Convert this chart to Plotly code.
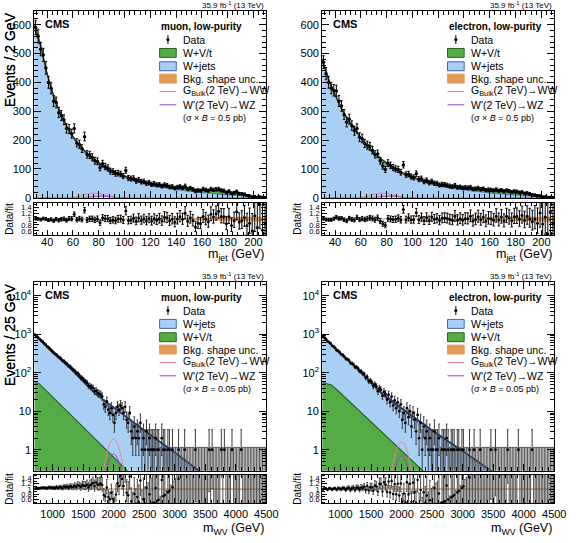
import numpy as np
import plotly.graph_objects as go

W, H = 578, 543
FONT = "Liberation Sans, Arial, Helvetica, sans-serif"

# ---------------- m_jet spectra (2 GeV bins, 30-210 GeV) ----------------
mjet_bin_centers = list(range(31, 211, 2))
mu_mjet_data = [590, 560, 515, 495, 450, 400, 380, 335, 330, 295,
                285, 270, 240, 238, 222, 240, 190, 185, 170, 212,
                150, 148, 140, 128, 126, 104, 118, 108, 103, 92,
                90, 84, 85, 82, 75, 95, 68, 66, 67, 58,
                62, 55, 56, 50, 52, 46, 48, 44, 45, 40,
                44, 42, 37, 38, 33, 36, 38, 34, 40, 30,
                33, 29, 22, 25, 24, 30, 27, 24, 30, 27,
                29, 30, 25, 24, 18, 22, 15, 17, 21, 14,
                13, 12, 7, 6, 3, 4, 2, 3, 1, 1]
el_mjet_data = [470, 430, 400, 380, 372, 370, 335, 318, 288, 262,
                272, 250, 232, 240, 210, 205, 188, 182, 178, 165,
                150, 152, 128, 110, 98, 120, 112, 104, 100, 98,
                88, 114, 80, 82, 73, 70, 83, 64, 66, 56,
                60, 52, 56, 50, 49, 44, 46, 45, 43, 40,
                38, 42, 36, 37, 34, 35, 34, 36, 30, 31,
                33, 29, 31, 26, 28, 27, 25, 28, 24, 26,
                22, 25, 23, 20, 22, 21, 18, 19, 15, 16,
                13, 10, 9, 6, 6, 3, 3, 1, 2, 1]
mjet_fit_x = [30, 35, 40, 45, 50, 55, 60, 65, 70, 75,
              80, 85, 90, 95, 100, 110, 120, 130, 140, 150,
              160, 170, 180, 190, 195, 200, 205, 210]
mu_mjet_fit = [600, 525, 430, 355, 297, 250, 213, 183, 159, 139,
               122, 107, 95, 85, 76, 61, 50, 42, 36.5, 32,
               28, 25, 21, 15, 9, 4, 2, 1]
el_mjet_fit = [480, 410, 358, 310, 272, 240, 208, 180, 158, 138,
               121, 106, 93, 82, 73, 58, 47, 40, 35, 31,
               27, 24, 20, 14, 9, 4, 2, 1]
mjet_wvt = [3, 3, 3, 3, 3, 4, 5, 7, 8, 8,
            8, 7, 6, 5, 5, 5, 6, 7, 8, 9,
            10, 11, 11, 8, 5, 2, 1, 0.5]
mjet_unc = [0.03, 0.025, 0.02, 0.018, 0.016, 0.015, 0.015, 0.015, 0.015, 0.015,
            0.015, 0.015, 0.015, 0.015, 0.015, 0.018, 0.022, 0.025, 0.03, 0.035,
            0.042, 0.05, 0.06, 0.07, 0.075, 0.08, 0.08, 0.08]
gbulk_mjet_x = [30, 56, 60, 64, 68, 72, 76, 80, 84, 88, 92, 96, 210]
gbulk_mjet = [0, 0, 1, 4, 9, 14, 16, 15, 11, 6, 2, 0, 0]
wprime_mjet_x = [30, 66, 70, 74, 78, 82, 86, 90, 94, 98, 210]
wprime_mjet = [0, 0, 1, 3, 5, 6, 5, 3, 1, 0, 0]

# ---------------- m_WV spectra (25 GeV bins, 700-4500 GeV) ----------------
mwv_bin_centers = [712.5 + 25 * i for i in range(152)]
mu_mwv_data = [970, 905, 820, 750, 690, 640, 580, 530, 480, 450,
               410, 370, 340, 310, 295, 265, 250, 230, 205, 200,
               180, 170, 150, 145, 130, 118, 112, 98, 95, 85,
               74, 72, 64, 58, 55, 46, 45, 42, 40, 33,
               34, 30, 28, 27, 24, 15, 13, 18, 11, 9,
               12, 8, 5, 9, 13, 11, 14, 12, 9, 13,
               6, 5, 9, 3, 2, 4, 2, 3, 2, 5,
               1, 2, 1, 3, 1, 2, 1, 1, 1, 2,
               1, 1, 0, 2, 1, 1, 0, 1, 1, 0,
               1, 0, 0, 0, 1, 0, 0, 0, 1, 0,
               0, 0, 0, 0, 0, 1, 0, 0, 0, 0,
               0, 0, 0, 0, 1, 0, 1, 0, 0, 0,
               0, 0, 1, 0, 1, 0, 0, 0, 0, 1,
               0, 0, 0, 0, 0, 1, 0, 0, 0, 0,
               0, 0, 0, 0, 0, 0, 0, 0, 0, 0,
               0, 0]
el_mwv_data = [860, 820, 745, 650, 625, 575, 500, 480, 440, 385,
               370, 335, 300, 290, 262, 230, 225, 210, 178, 175,
               165, 140, 140, 128, 110, 108, 96, 92, 74, 78,
               60, 62, 56, 45, 50, 44, 33, 40, 36, 25,
               32, 28, 20, 27, 17, 24, 14, 19, 12, 17,
               10, 15, 6, 9, 5, 12, 7, 10, 4, 9,
               6, 3, 8, 2, 5, 1, 4, 2, 3, 1,
               2, 1, 1, 3, 1, 1, 2, 0, 1, 1,
               1, 2, 1, 0, 1, 1, 1, 0, 1, 1,
               0, 1, 1, 0, 0, 0, 1, 0, 0, 1,
               0, 0, 0, 1, 0, 0, 0, 0, 0, 0,
               1, 0, 0, 1, 0, 0, 0, 0, 0, 0,
               0, 1, 0, 0, 0, 0, 0, 0, 1, 0,
               0, 0, 0, 0, 0, 0, 0, 1, 0, 0,
               0, 0, 0, 0, 0, 0, 0, 0, 0, 0,
               0, 0]
mwv_fit_x = [700, 1000, 1300, 1700, 2000, 2500, 3000, 3400, 4500]
mu_mwv_fit = [1000, 339, 126, 28.2, 12.6, 3.16, 0.85, 0.28, 0.02]
el_mwv_fit = [912, 316, 117, 26.3, 12.0, 3.16, 0.93, 0.33, 0.02]
mu_wvt_x = [700, 780, 2223, 3600]
mu_mwv_wvt = [56, 52, 0.285, 0.01]
el_wvt_x = [700, 850, 950, 2347, 3600]
el_mwv_wvt = [56, 48, 35, 0.285, 0.01]
mwv_unc_x = [700, 4500]
mwv_unc = [0.03, 0.035]
mwv_sig_x = [1750, 1800, 1850, 1900, 1950, 2000, 2050, 2100, 2150, 2200, 2250]
mu_gbulk_mwv = [0.05, 0.15, 0.4, 0.95, 1.6, 1.9, 1.6, 0.95, 0.4, 0.15, 0.05]
el_gbulk_mwv = [0.05, 0.13, 0.35, 0.8, 1.35, 1.6, 1.35, 0.8, 0.35, 0.13, 0.05]
mu_wprime_mwv = [0.02, 0.06, 0.17, 0.4, 0.65, 0.78, 0.65, 0.4, 0.17, 0.06, 0.02]
el_wprime_mwv = [0.02, 0.05, 0.15, 0.35, 0.58, 0.7, 0.58, 0.35, 0.15, 0.05, 0.02]

# ---------------- style ----------------
C_BLUE = "#a9cff5"
C_BLUE_EDGE = "#3566c0"
C_GREEN = "#55ab45"
C_GREEN_EDGE = "#1f6a1f"
C_ORANGE = "rgba(226,140,60,0.80)"
C_ORANGE_BOX = "#e39a55"
C_PINK = "#f07f8c"
C_PURPLE = "#9a3cc2"
C_NAVY = "#1e2d6e"


def fx(px):
    return px / W


def fy(py):
    return 1 - py / H


def poisson_err(n):
    n = np.asarray(n, float)
    safe = np.where(n > 0, n, 1.0)
    up = np.where(n > 0, n + np.sqrt(n + 0.75) + 1.0, 1.15)
    lo = np.where(n > 0, safe * (1 - 1 / (9 * safe) - 1 / (3 * np.sqrt(safe))) ** 3, 0.0)
    return up - n, n - lo


fig = go.Figure()


def add(tr, xa, ya):
    tr.update(xaxis=xa, yaxis=ya, showlegend=False, hoverinfo="skip")
    fig.add_trace(tr)


def base_axis(**kw):
    d = dict(showline=True, linecolor="black", linewidth=1, mirror="allticks",
             ticks="inside", tickcolor="black", ticklen=7, tickwidth=1,
             showgrid=False, zeroline=False,
             tickfont=dict(family=FONT, size=11, color="black"))
    d.update(kw)
    return d


panels = [
    dict(kind="mjet", lep="muon", L=35, R=272, T=11, B=200, RT=205, RB=238, XT=258,
         data=mu_mjet_data, fit=mu_mjet_fit),
    dict(kind="mjet", lep="electron", L=329, R=566, T=11, B=200, RT=205, RB=238, XT=258,
         data=el_mjet_data, fit=el_mjet_fit),
    dict(kind="mwv", lep="muon", L=35, R=272, T=285, B=476, RT=480, RB=509, XT=535,
         data=mu_mwv_data, fit=mu_mwv_fit, wvt_x=mu_wvt_x, wvt=mu_mwv_wvt,
         gb=mu_gbulk_mwv, wp=mu_wprime_mwv),
    dict(kind="mwv", lep="electron", L=329, R=566, T=285, B=476, RT=480, RB=509, XT=535,
         data=el_mwv_data, fit=el_mwv_fit, wvt_x=el_wvt_x, wvt=el_mwv_wvt,
         gb=el_gbulk_mwv, wp=el_wprime_mwv),
]

layout = {}
annotations = []
shapes = []

log_minor = [k * 10 ** e for e in range(-1, 5) for k in range(2, 10)]
log_minor = [v for v in log_minor if 0.28 < v < 23000]

for i, p in enumerate(panels):
    mi, ri = 2 * i + 1, 2 * i + 2
    mx = "x" if mi == 1 else f"x{mi}"
    my = "y" if mi == 1 else f"y{mi}"
    rx, ry = f"x{ri}", f"y{ri}"
    mxk = "xaxis" if mi == 1 else f"xaxis{mi}"
    myk = "yaxis" if mi == 1 else f"yaxis{mi}"
    rxk, ryk = f"xaxis{ri}", f"yaxis{ri}"
    xd = [fx(p["L"]), fx(p["R"])]
    L, R, T = p["L"], p["R"], p["T"]

    if p["kind"] == "mjet":
        centers = np.array(mjet_bin_centers, float)
        n = np.array(p["data"], float)
        tot = np.array(p["fit"], float)
        wvt = np.array(mjet_wvt, float)
        unc = np.array(mjet_unc, float)
        add(go.Scatter(x=mjet_fit_x, y=tot - wvt, mode="lines",
                       line=dict(width=0.8, color=C_BLUE_EDGE, shape="spline"),
                       fill="tozeroy", fillcolor=C_BLUE), mx, my)
        add(go.Scatter(x=mjet_fit_x, y=tot, mode="lines",
                       line=dict(width=0, shape="spline"),
                       fill="tonexty", fillcolor=C_GREEN), mx, my)
        add(go.Scatter(x=mjet_fit_x, y=tot * (1 - unc), mode="lines",
                       line=dict(width=0, shape="spline")), mx, my)
        add(go.Scatter(x=mjet_fit_x, y=tot * (1 + unc), mode="lines",
                       line=dict(width=0, shape="spline"),
                       fill="tonexty", fillcolor=C_ORANGE), mx, my)
        add(go.Scatter(x=mjet_fit_x, y=tot, mode="lines",
                       line=dict(width=1.3, color="#1b361b", shape="spline")), mx, my)
        add(go.Scatter(x=gbulk_mjet_x, y=gbulk_mjet, mode="lines",
                       line=dict(width=1, color=C_PINK, shape="spline")), mx, my)
        add(go.Scatter(x=wprime_mjet_x, y=wprime_mjet, mode="lines",
                       line=dict(width=1, color=C_PURPLE, shape="spline")), mx, my)
        eu, el = poisson_err(n)
        add(go.Scatter(x=centers, y=n, mode="markers",
                       marker=dict(size=3.5, color="black"),
                       error_y=dict(type="data", symmetric=False, array=eu, arrayminus=el,
                                    color="black", thickness=1, width=1.2)), mx, my)
        fit_at = np.interp(centers, mjet_fit_x, tot)
        add(go.Scatter(x=mjet_fit_x, y=1 - unc, mode="lines",
                       line=dict(width=0, shape="spline")), rx, ry)
        add(go.Scatter(x=mjet_fit_x, y=1 + unc, mode="lines",
                       line=dict(width=0, shape="spline"),
                       fill="tonexty", fillcolor=C_ORANGE), rx, ry)
        add(go.Scatter(x=centers, y=n / fit_at, mode="markers",
                       marker=dict(size=3, color="black"),
                       error_y=dict(type="data", symmetric=False, array=eu / fit_at,
                                    arrayminus=el / fit_at, color="black",
                                    thickness=1, width=1.2)), rx, ry)

        xr = [30, 210]
        xticks = list(range(40, 201, 20))
        layout[mxk] = base_axis(domain=xd, anchor=my, range=xr, tickvals=xticks,
                                showticklabels=False,
                                minor=dict(ticks="inside", ticklen=4, dtick=4, tick0=0,
                                           tickcolor="black", showgrid=False))
        layout[myk] = base_axis(domain=[fy(p["B"]), fy(T)], anchor=mx, range=[0, 648],
                                tick0=0, dtick=100,
                                minor=dict(ticks="inside", ticklen=4, dtick=20, tick0=0,
                                           tickcolor="black", showgrid=False))
        layout[rxk] = base_axis(domain=xd, anchor=ry, range=xr, tickvals=xticks, ticklen=5,
                                ticklabelstandoff=-4,
                                minor=dict(ticks="inside", ticklen=3, dtick=4, tick0=0,
                                           tickcolor="black", showgrid=False))
        ytitle = "Events / 2 GeV"
        xtitle = "m<sub>jet</sub> (GeV)"
        sigma_txt = "(σ × <i>B</i> = 0.5 pb)"
        legend_rows = [("data", "Data"), ("box", "W+V/t", C_GREEN, C_GREEN_EDGE),
                       ("box", "W+jets", C_BLUE, C_BLUE_EDGE),
                       ("box", "Bkg. shape unc.", C_ORANGE_BOX, C_ORANGE_BOX)]
    else:
        centers = np.array(mwv_bin_centers, float)
        n = np.array(p["data"], float)
        fitv = np.array(p["fit"], float)
        add(go.Scatter(x=[700, 4500], y=[0.01, 0.01], mode="lines",
                       line=dict(width=0)), mx, my)
        add(go.Scatter(x=p["wvt_x"], y=p["wvt"], mode="lines",
                       line=dict(width=1.2, color=C_GREEN_EDGE),
                       fill="tonexty", fillcolor=C_GREEN), mx, my)
        add(go.Scatter(x=mwv_fit_x, y=fitv, mode="lines",
                       line=dict(width=1.8, color=C_NAVY),
                       fill="tonexty", fillcolor=C_BLUE), mx, my)
        add(go.Scatter(x=mwv_sig_x, y=p["gb"], mode="lines",
                       line=dict(width=1, color=C_PINK, shape="spline")), mx, my)
        add(go.Scatter(x=mwv_sig_x, y=p["wp"], mode="lines",
                       line=dict(width=1, color=C_PURPLE, shape="spline")), mx, my)
        eu, el = poisson_err(n)
        nz = n > 0
        z = ~nz
        add(go.Scatter(x=centers[z], y=np.full(z.sum(), 1.15), mode="markers",
                       marker=dict(size=1, color="rgba(0,0,0,0)"),
                       error_y=dict(type="data", symmetric=False, array=np.zeros(z.sum()),
                                    arrayminus=np.full(z.sum(), 1.14), color="#555555",
                                    thickness=1, width=0.8)), mx, my)
        add(go.Scatter(x=centers[nz], y=n[nz], mode="markers",
                       marker=dict(size=2.8, color="black"),
                       error_y=dict(type="data", symmetric=False, array=eu[nz],
                                    arrayminus=el[nz], color="#3a3a3a",
                                    thickness=1, width=0.8)), mx, my)
        fit_at = 10 ** np.interp(centers, mwv_fit_x, np.log10(fitv))
        add(go.Scatter(x=mwv_unc_x, y=[1 - u for u in mwv_unc], mode="lines",
                       line=dict(width=0)), rx, ry)
        add(go.Scatter(x=mwv_unc_x, y=[1 + u for u in mwv_unc], mode="lines",
                       line=dict(width=0), fill="tonexty", fillcolor=C_ORANGE), rx, ry)
        add(go.Scatter(x=centers, y=n / fit_at, mode="markers",
                       marker=dict(size=2.5, color="black"),
                       error_y=dict(type="data", symmetric=False, array=eu / fit_at,
                                    arrayminus=el / fit_at, color="#4a4a4a",
                                    thickness=1, width=0.8)), rx, ry)

        xr = [700, 4500]
        xticks = list(range(1000, 4501, 500))
        layout[mxk] = base_axis(domain=xd, anchor=my, range=xr, tickvals=xticks,
                                showticklabels=False,
                                minor=dict(ticks="inside", ticklen=4, dtick=100, tick0=0,
                                           tickcolor="black", showgrid=False))
        layout[myk] = base_axis(domain=[fy(p["B"]), fy(T)], anchor=mx, type="log",
                                range=[np.log10(0.285), 4.36],
                                tickvals=[1, 10, 100, 1000, 10000],
                                ticktext=["1", "10", "10<sup>2</sup>", "10<sup>3</sup>",
                                          "10<sup>4</sup>"],
                                minor=dict(ticks="inside", ticklen=4, tickvals=log_minor,
                                           tickcolor="black", showgrid=False))
        layout[rxk] = base_axis(domain=xd, anchor=ry, range=xr, tickvals=xticks, ticklen=5,
                                minor=dict(ticks="inside", ticklen=3, dtick=100, tick0=0,
                                           tickcolor="black", showgrid=False))
        ytitle = "Events / 25 GeV"
        xtitle = "m<sub>WV</sub> (GeV)"
        sigma_txt = "(σ × <i>B</i> = 0.05 pb)"
        legend_rows = [("data", "Data"), ("box", "W+jets", C_BLUE, C_BLUE_EDGE),
                       ("box", "W+V/t", C_GREEN, C_GREEN_EDGE),
                       ("box", "Bkg. shape unc.", C_ORANGE_BOX, C_ORANGE_BOX)]

    layout[ryk] = base_axis(domain=[fy(p["RB"]), fy(p["RT"])], anchor=rx, range=[0.45, 1.55],
                            tickvals=[0.6, 0.8, 1, 1.2, 1.4],
                            ticktext=["0.6", "0.8", "1", "1.2", "1.4"], ticklen=5,
                            tickfont=dict(family=FONT, size=7.5, color="black"),
                            minor=dict(ticks="inside", ticklen=3, dtick=0.1, tick0=0,
                                       tickcolor="black", showgrid=False))

    # ---- texts ----
    annotations.append(dict(text="35.9 fb<sup>-1</sup> (13 TeV)", x=fx(R), y=fy(T - 6),
                            xref="paper", yref="paper", xanchor="right", yanchor="middle",
                            showarrow=False, font=dict(family=FONT, size=8, color="black")))
    annotations.append(dict(text="<b>CMS</b>", x=fx(L + 9), y=fy(T + 13),
                            xref="paper", yref="paper", xanchor="left", yanchor="middle",
                            showarrow=False, font=dict(family=FONT, size=11, color="black")))
    annotations.append(dict(text=ytitle, x=fx(11), y=fy(T - 1), textangle=-90,
                            xref="paper", yref="paper", xanchor="center", yanchor="top",
                            showarrow=False, font=dict(family=FONT, size=14, color="black")))
    annotations.append(dict(text="Data/fit", x=fx(L - 26), y=fy((p["RT"] + p["RB"]) / 2),
                            textangle=-90, xref="paper", yref="paper", xanchor="center",
                            yanchor="middle", showarrow=False,
                            font=dict(family=FONT, size=10, color="black")))
    annotations.append(dict(text=xtitle, x=fx(R), y=fy(p["XT"]),
                            xref="paper", yref="paper", xanchor="right", yanchor="middle",
                            showarrow=False, font=dict(family=FONT, size=12.5, color="black")))

    # ---- legend ----
    ty = T + 16
    annotations.append(dict(text=f"<b>{p['lep']}, low-purity</b>", x=fx(L + 127), y=fy(ty),
                            xref="paper", yref="paper", xanchor="left", yanchor="middle",
                            showarrow=False, font=dict(family=FONT, size=10, color="black")))
    offs = [13, 26.5, 40, 52.5, 65.5, 79, 92.5]
    x0, x1, xt = L + 128, L + 145, L + 150
    rows = legend_rows + [("line", "G<sub>Bulk</sub>(2 TeV)→WW", C_PINK),
                          ("line", "W'(2 TeV)→WZ", C_PURPLE)]
    for k, row in enumerate(rows):
        yy = ty + offs[k]
        if row[0] == "data":
            xm = (x0 + x1) / 2
            shapes.append(dict(type="line", xref="paper", yref="paper",
                               x0=fx(xm), x1=fx(xm), y0=fy(yy - 4.5), y1=fy(yy + 4.5),
                               line=dict(color="black", width=1)))
            shapes.append(dict(type="circle", xref="paper", yref="paper",
                               x0=fx(xm - 1.6), x1=fx(xm + 1.6), y0=fy(yy - 1.6),
                               y1=fy(yy + 1.6), fillcolor="black",
                               line=dict(color="black", width=0)))
        elif row[0] == "box":
            shapes.append(dict(type="rect", xref="paper", yref="paper",
                               x0=fx(x0), x1=fx(x1), y0=fy(yy - 4.5), y1=fy(yy + 4.5),
                               fillcolor=row[2], line=dict(color=row[3], width=1)))
        else:
            shapes.append(dict(type="line", xref="paper", yref="paper",
                               x0=fx(x0), x1=fx(x1), y0=fy(yy), y1=fy(yy),
                               line=dict(color=row[2], width=1)))
        annotations.append(dict(text=row[1], x=fx(xt), y=fy(yy), xref="paper", yref="paper",
                                xanchor="left", yanchor="middle", showarrow=False,
                                font=dict(family=FONT, size=10.5, color="black")))
    annotations.append(dict(text=sigma_txt, x=fx(xt), y=fy(ty + offs[6]), xref="paper",
                            yref="paper", xanchor="left", yanchor="middle", showarrow=False,
                            font=dict(family=FONT, size=9, color="black")))

fig.update_layout(width=W, height=H, margin=dict(l=0, r=0, t=0, b=0),
                  paper_bgcolor="white", plot_bgcolor="white", showlegend=False,
                  annotations=annotations, shapes=shapes, **layout)
fig.write_html("out.html")
